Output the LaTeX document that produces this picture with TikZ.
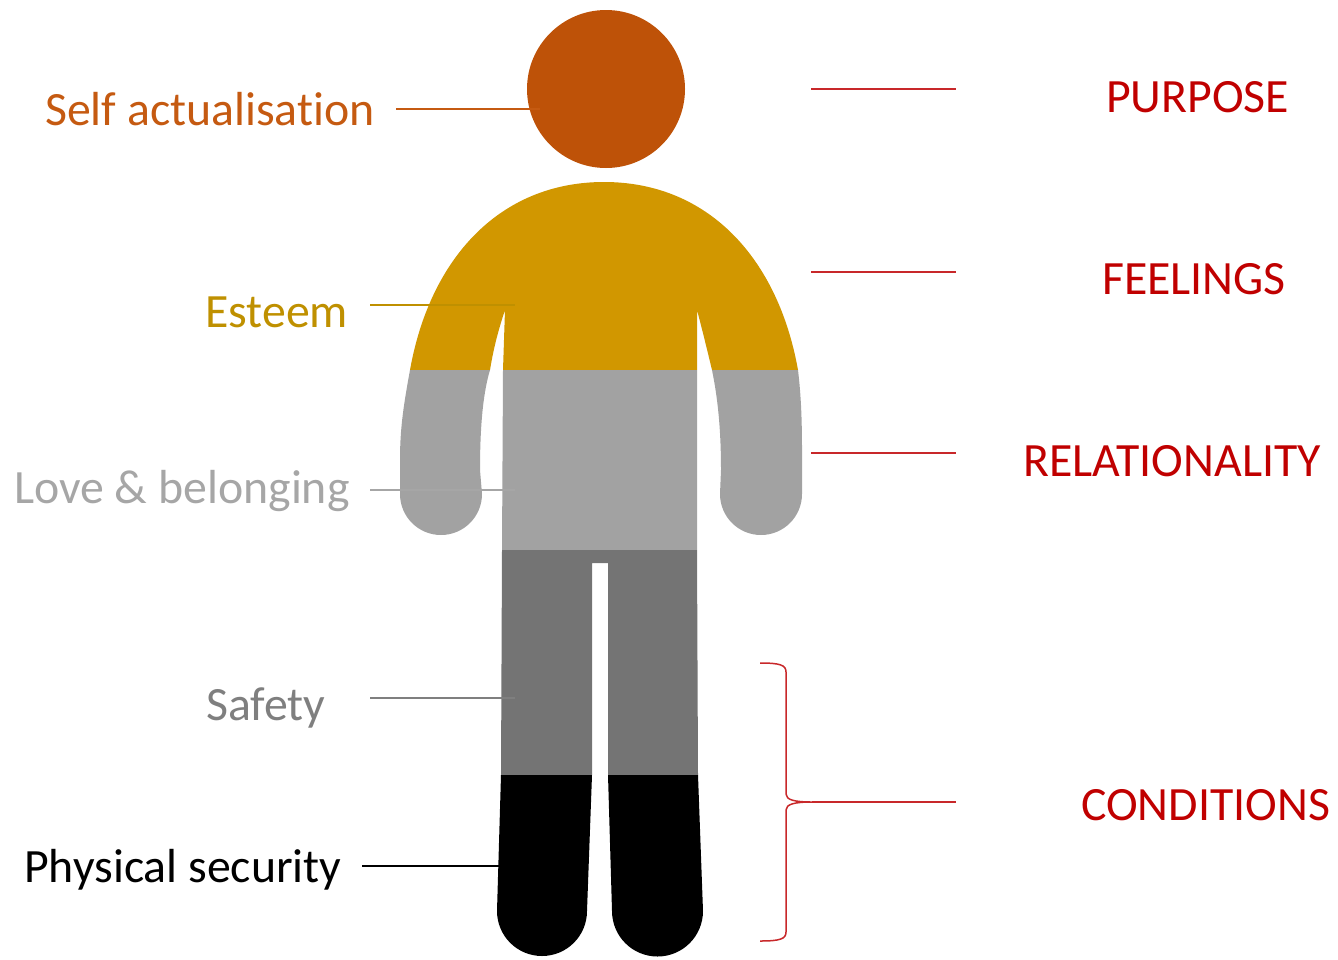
\documentclass[tikz,border=0pt]{standalone}
\usepackage{fontspec}
\setmainfont[Ligatures=NoCommon]{Carlito}
\definecolor{headc}{HTML}{BE5208}
\definecolor{satext}{HTML}{C55A11}
\definecolor{torsoc}{HTML}{D19700}
\definecolor{esttext}{HTML}{BF9000}
\definecolor{armc}{HTML}{A2A2A2}
\definecolor{lovetext}{HTML}{A6A6A6}
\definecolor{legc}{HTML}{747474}
\definecolor{saftext}{HTML}{7F7F7F}
\definecolor{redc}{HTML}{C00000}
\definecolor{redline}{HTML}{C8282A}
\begin{document}
\begin{tikzpicture}[x=1pt,y=-1pt,
  lbl/.style={anchor=base west,inner sep=0pt,font=\fontsize{47.8}{57}\selectfont},
  tick/.style={line width=1.5pt},
  rtick/.style={line width=1.5pt,draw=redline}]
\useasboundingbox (0,0) rectangle (1338,959);
% head
\fill[headc] (606,89) circle[radius=79];
% body silhouette, coloured in horizontal bands
\begin{scope}
\clip (400,494) -- (400,460) .. controls (400,430) and (403,408) .. (410,370)
  .. controls (430,258) and (500,182) .. (604,182)
  .. controls (708,182) and (778,258) .. (798,370)
  .. controls (801,395) and (802,420) .. (802,450) -- (802,494)
  arc[start angle=0,end angle=180,radius=41]
  -- (721,470) .. controls (721,420) and (716,390) .. (712,370)
  .. controls (706,345) and (701,325) .. (697,310)
  -- (697,550) -- (698,775) -- (703,911)
  arc[start angle=0,end angle=180,radius=45.5]
  -- (608,775) -- (608,563) -- (592,563) -- (592,775) -- (587,911)
  arc[start angle=0,end angle=180,radius=45]
  -- (501,775) -- (502,550) -- (503,370) -- (505,310)
  .. controls (500,325) and (494,345) .. (490,370)
  .. controls (484,390) and (480,420) .. (480,470) -- (482,494)
  arc[start angle=0,end angle=180,radius=41] -- cycle;
\fill[torsoc] (380,170) rectangle (820,370);
\fill[armc] (380,370) rectangle (820,550);
\fill[legc] (380,550) rectangle (820,775);
\fill[black] (380,775) rectangle (820,959);
\end{scope}
% left labels
\node[lbl,text=satext] (sa) at (45,125) {Self actualisation};
\node[lbl,text=esttext] (es) at (205,327) {Esteem};
\node[lbl,text=lovetext] (lb) at (14,503) {Love \& belonging};
\node[lbl,text=saftext] (sf) at (206,720) {Safety};
\node[lbl,text=black] (ps) at (24,882) {Physical security};
\coordinate (sa1) at (396,109); \coordinate (sa2) at (540,109);
\coordinate (es1) at (370,305); \coordinate (es2) at (515,305);
\coordinate (lb1) at (370,490); \coordinate (lb2) at (515,490);
\coordinate (sf1) at (370,698); \coordinate (sf2) at (515,698);
\coordinate (ps1) at (362,866); \coordinate (ps2) at (500,866);
\draw[tick,draw=satext] (sa1) -- (sa2);
\draw[tick,draw=esttext] (es1) -- (es2);
\draw[tick,draw=lovetext] (lb1) -- (lb2);
\draw[tick,draw=saftext] (sf1) -- (sf2);
\draw[tick,draw=black] (ps1) -- (ps2);
% right labels
\node[lbl,text=redc] (pu) at (1106,112) {PURPOSE};
\node[lbl,text=redc] (fe) at (1102,294) {FEELINGS};
\node[lbl,text=redc] (re) at (1023,476) {RELATIONALITY};
\node[lbl,text=redc] (co) at (1081,820) {CONDITIONS};
\coordinate (pu1) at (811,89);  \coordinate (pu2) at (956,89);
\coordinate (fe1) at (811,272); \coordinate (fe2) at (956,272);
\coordinate (re1) at (811,453); \coordinate (re2) at (956,453);
\coordinate (tip) at (812,802); \coordinate (co2) at (956,802);
\draw[rtick] (pu1) -- (pu2);
\draw[rtick] (fe1) -- (fe2);
\draw[rtick] (re1) -- (re2);
\draw[rtick] (tip) -- (co2);
% brace
\coordinate (bt) at (760,663); \coordinate (bb) at (760,941);
\draw[rtick,line join=round] (bt) .. controls (780,663) and (786,665) .. (786,672)
  -- (786,794) .. controls (786,800) and (795,802) .. (tip)
  .. controls (795,802) and (786,804) .. (786,810)
  -- (786,932) .. controls (786,939) and (780,941) .. (bb);
\end{tikzpicture}
\end{document}
